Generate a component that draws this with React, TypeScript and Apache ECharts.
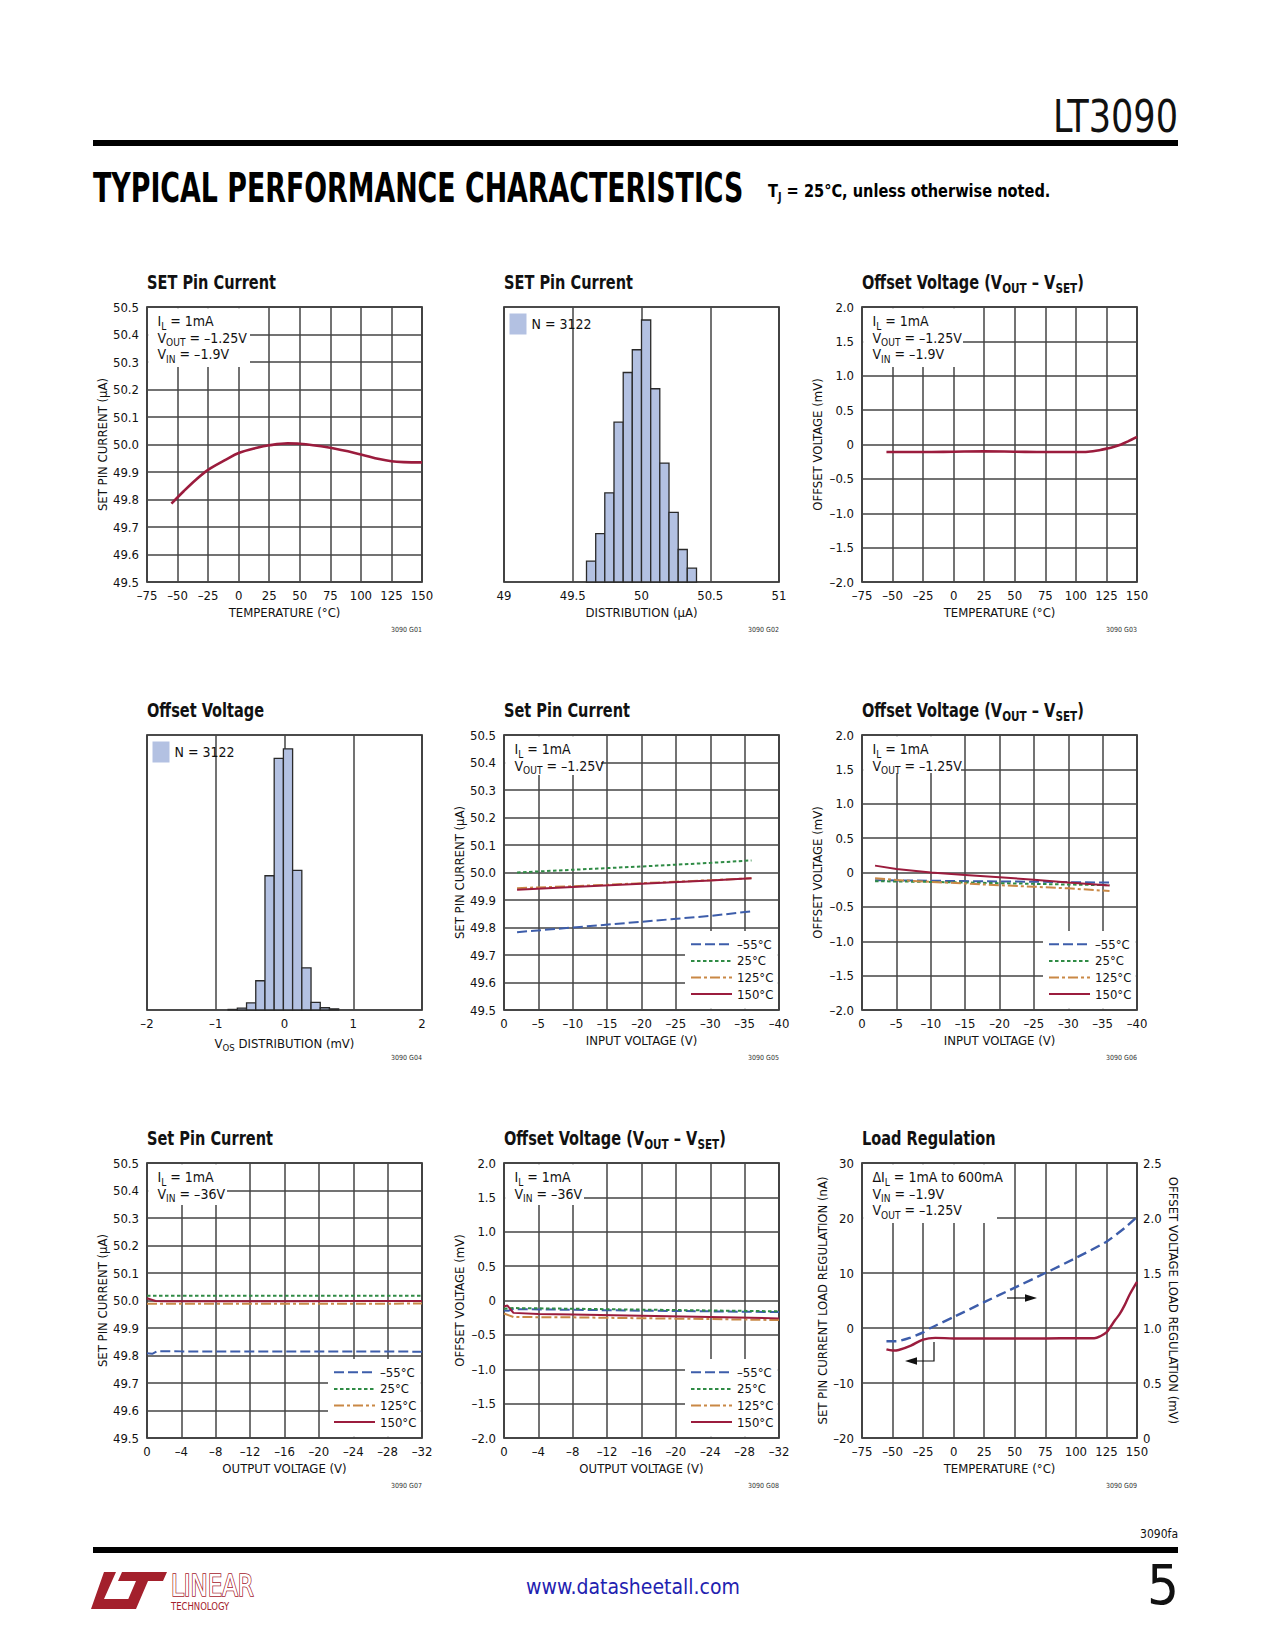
import React, { useEffect, useRef } from "react";
import * as echarts from "echarts";

const W = 1275;
const H = 1650;
const NARROW = "'Liberation Sans Narrow', 'Arial Narrow', 'DejaVu Sans Condensed', sans-serif";
const INK = "#111";
const GRID_C = "#454545";
const FRAME = "#111";
const RED = "#9b1c3d";
const BLUE = "#3d5daa";
const GREEN = "#2f8b45";
const ORANGE = "#c98845";
const HIST_FILL = "#b3c1e2";
const HIST_EDGE = "#2a2a2a";
const LOGO_RED = "#a3202c";

// ---------- tick values and labels ----------
const TEMP_TICKS = [-75, -50, -25, 0, 25, 50, 75, 100, 125, 150];
const TEMP_LABELS = ["–75", "–50", "–25", "0", "25", "50", "75", "100", "125", "150"];
const SETPIN_TICKS = [49.5, 49.6, 49.7, 49.8, 49.9, 50.0, 50.1, 50.2, 50.3, 50.4, 50.5];
const SETPIN_LABELS = ["49.5", "49.6", "49.7", "49.8", "49.9", "50.0", "50.1", "50.2", "50.3", "50.4", "50.5"];
const OFFSET_TICKS = [-2, -1.5, -1, -0.5, 0, 0.5, 1, 1.5, 2];
const OFFSET_LABELS = ["–2.0", "–1.5", "–1.0", "–0.5", "0", "0.5", "1.0", "1.5", "2.0"];
const VIN_TICKS = [0, -5, -10, -15, -20, -25, -30, -35, -40];
const VIN_LABELS = ["0", "–5", "–10", "–15", "–20", "–25", "–30", "–35", "–40"];
const VOUT_TICKS = [0, -4, -8, -12, -16, -20, -24, -28, -32];
const VOUT_LABELS = ["0", "–4", "–8", "–12", "–16", "–20", "–24", "–28", "–32"];
const DIST_I_TICKS = [49, 49.5, 50, 50.5, 51];
const DIST_I_LABELS = ["49", "49.5", "50", "50.5", "51"];
const DIST_V_TICKS = [-2, -1, 0, 1, 2];
const DIST_V_LABELS = ["–2", "–1", "0", "1", "2"];
const LOAD_NA_TICKS = [-20, -10, 0, 10, 20, 30];
const LOAD_NA_LABELS = ["–20", "–10", "0", "10", "20", "30"];
const LOAD_MV_TICKS = [0, 0.5, 1, 1.5, 2, 2.5];
const LOAD_MV_LABELS = ["0", "0.5", "1.0", "1.5", "2.0", "2.5"];

const TEMP_NAMES = ["–55°C", "25°C", "125°C", "150°C"];

// ---------- G01: SET pin current vs temperature ----------
const G01_TEMP = [-55, -45, -35, -25, -10, 0, 15, 25, 40, 50, 75, 100, 115, 125, 135, 150];
const G01_ISET = [49.785, 49.83, 49.872, 49.908, 49.946, 49.969, 49.988, 49.997, 50.004, 50.003, 49.988, 49.964, 49.947, 49.939, 49.936, 49.935];

// ---------- G02: SET pin current distribution ----------
const G02_BIN_EDGES = [49.6, 49.667, 49.733, 49.8, 49.867, 49.933, 50.0, 50.067, 50.133, 50.2, 50.267, 50.333, 50.4];
const G02_COUNTS = [45, 104, 192, 344, 451, 500, 564, 416, 256, 150, 70, 30];
const G02_YMAX = 592;

// ---------- G03: offset voltage vs temperature ----------
const G03_TEMP = [-55, -25, 0, 25, 50, 75, 100, 110, 120, 125, 130, 137, 143, 150];
const G03_VOS = [-0.11, -0.11, -0.105, -0.1, -0.105, -0.11, -0.11, -0.105, -0.08, -0.06, -0.04, 0.0, 0.05, 0.11];

// ---------- G04: offset voltage distribution ----------
const G04_BIN_EDGES = [-0.82, -0.686, -0.552, -0.418, -0.284, -0.15, -0.016, 0.118, 0.252, 0.386, 0.52, 0.654, 0.788];
const G04_COUNTS = [2, 7, 25, 104, 477, 894, 928, 496, 150, 27, 8, 4];
const G04_YMAX = 977;

// ---------- G05: SET pin current vs input voltage ----------
const G05_VIN = [-1.9, -10, -20, -30, -36];
const G05_M55 = [49.783, 49.8, 49.821, 49.842, 49.859];
const G05_25 = [50.0, 50.01, 50.022, 50.035, 50.044];
const G05_125 = [49.943, 49.95, 49.961, 49.972, 49.979];
const G05_150 = [49.937, 49.947, 49.959, 49.971, 49.979];

// ---------- G06: offset voltage vs input voltage ----------
const G06_VIN = [-1.9, -5, -10, -15, -20, -25, -30, -36];
const G06_M55 = [-0.112, -0.115, -0.12, -0.125, -0.13, -0.135, -0.14, -0.146];
const G06_25 = [-0.127, -0.13, -0.137, -0.145, -0.155, -0.165, -0.175, -0.185];
const G06_125 = [-0.083, -0.11, -0.136, -0.16, -0.185, -0.207, -0.23, -0.27];
const G06_150 = [0.1, 0.05, 0.0, -0.035, -0.07, -0.105, -0.145, -0.19];

// ---------- G07: SET pin current vs output voltage ----------
const G07_VOUT_M55 = [0, -0.6, -1.2, -4, -16, -32];
const G07_M55 = [49.808, 49.806, 49.816, 49.815, 49.815, 49.814];
const G07_VOUT_25 = [0, -8, -16, -24, -32];
const G07_25 = [50.017, 50.017, 50.017, 50.017, 50.017];
const G07_VOUT_125 = [0, -8, -16, -24, -32];
const G07_125 = [49.988, 49.988, 49.988, 49.988, 49.989];
const G07_VOUT_150 = [0, -1, -2, -8, -16, -24, -32];
const G07_150 = [50.008, 49.998, 49.997, 49.997, 49.997, 49.998, 49.998];

// ---------- G08: offset voltage vs output voltage ----------
const G08_VOUT_M55 = [0, -0.5, -1.1, -8, -16, -24, -32];
const G08_M55 = [-0.146, -0.15, -0.126, -0.135, -0.148, -0.158, -0.168];
const G08_VOUT_25 = [0, -1.1, -8, -16, -24, -32];
const G08_25 = [-0.12, -0.11, -0.12, -0.133, -0.145, -0.157];
const G08_VOUT_125 = [0, -1.1, -8, -16, -24, -32];
const G08_125 = [-0.19, -0.24, -0.245, -0.258, -0.27, -0.285];
const G08_VOUT_150 = [0, -0.4, -0.7, -1.1, -4, -8, -16, -24, -32];
const G08_150 = [-0.087, -0.073, -0.12, -0.18, -0.195, -0.204, -0.222, -0.24, -0.26];

// ---------- G09: load regulation ----------
const G09_TEMP_I = [-55, -50, -45, -35, -25, -15, 0, 25, 50, 75, 100, 115, 120, 125, 128, 132, 136, 140, 144, 150];
const G09_ISET_NA = [-3.9, -4.1, -4.0, -3.2, -2.1, -1.8, -1.9, -1.9, -1.9, -1.9, -1.85, -1.85, -1.5, -0.8, 0.1, 1.4, 2.6, 4.2, 6.1, 8.4];
const G09_TEMP_V = [-55, -47, -36, -25, -19, 0, 25, 50, 75, 100, 125, 140, 150];
const G09_VOS_MV = [0.879, 0.879, 0.91, 0.96, 1.0, 1.1, 1.235, 1.367, 1.5, 1.637, 1.785, 1.91, 2.01];

// ---------- layout ----------
const COLS = [147, 504, 862];
const ROWS = [307, 735, 1163];
const PW = 275;
const PH = 275;
const gx = (i: number) => COLS[i % 3];
const gy = (i: number) => ROWS[Math.floor(i / 3)];

const zip = (xs: number[], ys: number[]) => xs.map((x, i) => [x, ys[i]]);

function lookup(ticks: number[], labels: string[]) {
  return (v: number) => {
    const i = ticks.findIndex((t) => Math.abs(t - v) < 1e-6);
    return i >= 0 ? labels[i] : "";
  };
}

const nameStyle = { fontSize: 13, color: INK, fontFamily: NARROW };
const subRich = {
  a: { fontSize: 13, fontFamily: NARROW, color: INK, lineHeight: 18 },
  s: { fontSize: 9.5, fontFamily: NARROW, color: INK, lineHeight: 9, verticalAlign: "bottom" },
};

function valAxis(gridIndex: number, ticks: number[], labels: string[], isX: boolean, extra: any = {}) {
  const min = Math.min(...ticks);
  const max = Math.max(...ticks);
  const interval = Math.round(Math.abs(ticks[1] - ticks[0]) * 1e6) / 1e6;
  return {
    type: "value",
    gridIndex,
    min,
    max,
    interval,
    axisLine: { show: false },
    axisTick: { show: false },
    splitLine: { show: true, lineStyle: { color: GRID_C, width: 1.5 } },
    axisLabel: {
      show: true,
      fontSize: 13,
      lineHeight: 14,
      color: INK,
      fontFamily: NARROW,
      margin: isX ? 6 : 8,
      formatter: lookup(ticks, labels),
    },
    nameLocation: "middle",
    nameGap: isX ? 24 : 38,
    nameTextStyle: nameStyle,
    nameMoveOverlap: false,
    ...extra,
  };
}

function histAxis(gridIndex: number, ymax: number) {
  return { type: "value", gridIndex, min: 0, max: ymax, show: false, splitLine: { show: false } };
}

function lineSeries(name: string, xi: number, yi: number, data: number[][], color: string, type: any, width = 2, smooth: any = false) {
  return {
    type: "line",
    name,
    xAxisIndex: xi,
    yAxisIndex: yi,
    data,
    symbol: "none",
    smooth,
    z: 3,
    itemStyle: { color },
    lineStyle: { color, width, type },
  };
}

const DASH_BLUE = [10, 4];
const DOT_GREEN = [3.5, 2.5];
const DASHDOT_ORANGE = [10, 3, 3, 3];

function tempSeries(xi: number, data: number[][][]) {
  return [
    lineSeries(TEMP_NAMES[0], xi, xi, data[0], BLUE, DASH_BLUE),
    lineSeries(TEMP_NAMES[1], xi, xi, data[1], GREEN, DOT_GREEN),
    lineSeries(TEMP_NAMES[2], xi, xi, data[2], ORANGE, DASHDOT_ORANGE),
    lineSeries(TEMP_NAMES[3], xi, xi, data[3], RED, "solid"),
  ];
}

function histSeries(xi: number, edges: number[], counts: number[]) {
  const data = counts.map((c, i) => [edges[i], edges[i + 1], c]);
  return {
    type: "custom",
    name: "N = 3122",
    xAxisIndex: xi,
    yAxisIndex: xi,
    data,
    z: 2,
    itemStyle: { color: HIST_FILL },
    encode: { x: [0, 1], y: 2 },
    renderItem: (params: any, api: any) => {
      const p0 = api.coord([api.value(0), api.value(2)]);
      const p1 = api.coord([api.value(1), 0]);
      return {
        type: "rect",
        shape: { x: p0[0], y: p0[1], width: p1[0] - p0[0], height: p1[1] - p0[1] },
        style: { fill: HIST_FILL, stroke: HIST_EDGE, lineWidth: 1.3 },
      };
    },
  };
}

function subText(text: string, x: number, y: number, size: number, extra: any = {}, subSize?: number, weight: any = "normal", scaleX = 1) {
  const ss = subSize || size * 0.72;
  return {
    type: "text",
    z: 6,
    silent: true,
    x,
    y,
    scaleX,
    style: {
      text,
      x: 0,
      y: 0,
      fill: INK,
      fontSize: size,
      fontFamily: NARROW,
      fontWeight: weight,
      verticalAlign: "middle",
      lineHeight: size + 6,
      rich: {
        s: { fontSize: ss, fontFamily: NARROW, fontWeight: weight, lineHeight: ss, verticalAlign: "bottom", fill: INK },
      },
      ...extra,
    },
  };
}

function whiteBox(i: number, rx: number, ry: number, w: number, h: number) {
  return {
    type: "rect",
    z: 1,
    silent: true,
    shape: { x: gx(i) + rx, y: gy(i) + ry, width: w, height: h },
    style: { fill: "#fff" },
  };
}

function annotation(i: number, w: number, h: number, lines: string[]) {
  const els: any[] = [whiteBox(i, 1.2, 1.2, w - 1.2, h - 1.2)];
  lines.forEach((t, k) => {
    els.push(subText(t, gx(i) + 10.5, gy(i) + 14 + k * 16.6, 14));
  });
  return els;
}

function measure(text: string, font: string) {
  const c = document.createElement("canvas").getContext("2d") as CanvasRenderingContext2D;
  c.font = font;
  return c.measureText(text).width || 1;
}

function buildOption() {
  const grids = Array.from({ length: 9 }, (_, i) => ({
    left: gx(i),
    top: gy(i),
    width: PW,
    height: PH,
    show: true,
    borderColor: FRAME,
    borderWidth: 1.6,
    backgroundColor: "transparent",
    containLabel: false,
    outerBoundsMode: "none",
  }));

  const vosName = "{a|V}{s|OS}{a| DISTRIBUTION (mV)}";

  const xAxis = [
    valAxis(0, TEMP_TICKS, TEMP_LABELS, true, { name: "TEMPERATURE (°C)" }),
    valAxis(1, DIST_I_TICKS, DIST_I_LABELS, true, { name: "DISTRIBUTION (µA)" }),
    valAxis(2, TEMP_TICKS, TEMP_LABELS, true, { name: "TEMPERATURE (°C)" }),
    valAxis(3, DIST_V_TICKS, DIST_V_LABELS, true, { name: vosName, nameTextStyle: { ...nameStyle, rich: subRich } }),
    valAxis(4, VIN_TICKS, VIN_LABELS, true, { name: "INPUT VOLTAGE (V)", inverse: true }),
    valAxis(5, VIN_TICKS, VIN_LABELS, true, { name: "INPUT VOLTAGE (V)", inverse: true }),
    valAxis(6, VOUT_TICKS, VOUT_LABELS, true, { name: "OUTPUT VOLTAGE (V)", inverse: true }),
    valAxis(7, VOUT_TICKS, VOUT_LABELS, true, { name: "OUTPUT VOLTAGE (V)", inverse: true }),
    valAxis(8, TEMP_TICKS, TEMP_LABELS, true, { name: "TEMPERATURE (°C)" }),
  ];

  const yAxis = [
    valAxis(0, SETPIN_TICKS, SETPIN_LABELS, false, { name: "SET PIN CURRENT (µA)" }),
    histAxis(1, G02_YMAX),
    valAxis(2, OFFSET_TICKS, OFFSET_LABELS, false, { name: "OFFSET VOLTAGE (mV)" }),
    histAxis(3, G04_YMAX),
    valAxis(4, SETPIN_TICKS, SETPIN_LABELS, false, { name: "SET PIN CURRENT (µA)" }),
    valAxis(5, OFFSET_TICKS, OFFSET_LABELS, false, { name: "OFFSET VOLTAGE (mV)" }),
    valAxis(6, SETPIN_TICKS, SETPIN_LABELS, false, { name: "SET PIN CURRENT (µA)" }),
    valAxis(7, OFFSET_TICKS, OFFSET_LABELS, false, { name: "OFFSET VOLTAGE (mV)" }),
    valAxis(8, LOAD_NA_TICKS, LOAD_NA_LABELS, false, { name: "SET PIN CURRENT LOAD REGULATION (nA)", nameGap: 33 }),
    valAxis(8, LOAD_MV_TICKS, LOAD_MV_LABELS, false, {
      name: "OFFSET VOLTAGE LOAD REGULATION (mV)",
      position: "right",
      nameRotate: -90,
      nameGap: 30,
      splitLine: { show: false },
      axisLabel: { show: true, fontSize: 13, lineHeight: 13, color: INK, fontFamily: NARROW, margin: 6, formatter: lookup(LOAD_MV_TICKS, LOAD_MV_LABELS) },
    }),
  ];

  const series: any[] = [
    lineSeries("G01", 0, 0, zip(G01_TEMP, G01_ISET), RED, "solid", 2.6, 0.35),
    histSeries(1, G02_BIN_EDGES, G02_COUNTS),
    lineSeries("G03", 2, 2, zip(G03_TEMP, G03_VOS), RED, "solid", 2.6, 0.35),
    histSeries(3, G04_BIN_EDGES, G04_COUNTS),
    ...tempSeries(4, [zip(G05_VIN, G05_M55), zip(G05_VIN, G05_25), zip(G05_VIN, G05_125), zip(G05_VIN, G05_150)]),
    ...tempSeries(5, [zip(G06_VIN, G06_M55), zip(G06_VIN, G06_25), zip(G06_VIN, G06_125), zip(G06_VIN, G06_150)]),
    ...tempSeries(6, [zip(G07_VOUT_M55, G07_M55), zip(G07_VOUT_25, G07_25), zip(G07_VOUT_125, G07_125), zip(G07_VOUT_150, G07_150)]),
    ...tempSeries(7, [zip(G08_VOUT_M55, G08_M55), zip(G08_VOUT_25, G08_25), zip(G08_VOUT_125, G08_125), zip(G08_VOUT_150, G08_150)]),
    lineSeries("G09 I", 8, 8, zip(G09_TEMP_I, G09_ISET_NA), RED, "solid", 2.4, 0.35),
    lineSeries("G09 V", 8, 9, zip(G09_TEMP_V, G09_VOS_MV), BLUE, [10, 5], 2.4, 0.2),
  ];

  const legend: any[] = [4, 5, 6, 7].map((i) => ({
    data: TEMP_NAMES,
    orient: "vertical",
    left: gx(i) + 186,
    top: gy(i) + 201,
    itemWidth: 41,
    itemHeight: 10,
    itemGap: 0,
    padding: 0,
    selectedMode: false,
    itemStyle: { opacity: 0 },
    textStyle: { fontSize: 13, lineHeight: 16.6, color: INK, fontFamily: NARROW },
    z: 5,
  }));
  [1, 3].forEach((i) => {
    legend.push({
      data: [{ name: "N = 3122", icon: "rect" }],
      left: gx(i) + 5.5,
      top: gy(i) + 6.5,
      itemWidth: 17,
      itemHeight: 21,
      padding: 0,
      selectedMode: false,
      itemStyle: { color: HIST_FILL, borderWidth: 0 },
      textStyle: { fontSize: 14, color: INK, fontFamily: NARROW },
      z: 5,
    });
  });

  const els: any[] = [];

  // chart titles
  const TITLES = [
    "SET Pin Current",
    "SET Pin Current",
    "Offset Voltage (V{s|OUT} – V{s|SET})",
    "Offset Voltage",
    "Set Pin Current",
    "Offset Voltage (V{s|OUT} – V{s|SET})",
    "Set Pin Current",
    "Offset Voltage (V{s|OUT} – V{s|SET})",
    "Load Regulation",
  ];
  TITLES.forEach((t, i) => {
    els.push(subText(t, gx(i), gy(i) - 25, 19.5, {}, 14, "bold", 0.83));
    els.push({
      type: "text",
      z: 6,
      silent: true,
      style: { text: `3090 G0${i + 1}`, x: gx(i) + PW, y: gy(i) + PH + 48, align: "right", verticalAlign: "middle", fontSize: 7, fontFamily: NARROW, fill: "#333" },
    });
  });

  // annotation boxes
  const A3 = ["I{s|L} = 1mA", "V{s|OUT} = –1.25V", "V{s|IN} = –1.9V"];
  els.push(...annotation(0, 103, 60, A3));
  els.push(...annotation(2, 101, 60, A3));
  const A2 = ["I{s|L} = 1mA", "V{s|OUT} = –1.25V"];
  els.push(...annotation(4, 97, 40, A2));
  els.push(...annotation(5, 99, 38, A2));
  const A36 = ["I{s|L} = 1mA", "V{s|IN} = –36V"];
  els.push(...annotation(6, 80, 42, A36));
  els.push(...annotation(7, 80, 42, A36));
  els.push(...annotation(8, 135, 60, ["ΔI{s|L} = 1mA to 600mA", "V{s|IN} = –1.9V", "V{s|OUT} = –1.25V"]));

  // legend white boxes
  [4, 5, 6, 7].forEach((i) => els.push(whiteBox(i, 181, 196, PW - 182.2, PH - 197.2)));

  // load regulation arrows
  const ax = gx(8);
  const ay = gy(8);
  els.push({ type: "line", z: 6, silent: true, shape: { x1: ax + 145, y1: ay + 135, x2: ax + 166, y2: ay + 135 }, style: { stroke: "#111", lineWidth: 1.2 } });
  els.push({ type: "polygon", z: 6, silent: true, shape: { points: [[ax + 175, ay + 135], [ax + 163, ay + 131.3], [ax + 163, ay + 138.7]] }, style: { fill: "#111" } });
  els.push({ type: "polyline", z: 6, silent: true, shape: { points: [[ax + 72, ay + 179], [ax + 72, ay + 198], [ax + 52, ay + 198]] }, style: { stroke: "#111", lineWidth: 1.2, fill: null } });
  els.push({ type: "polygon", z: 6, silent: true, shape: { points: [[ax + 43, ay + 198], [ax + 55, ay + 194.3], [ax + 55, ay + 201.7]] }, style: { fill: "#111" } });

  // page header
  const ltFont = "44px 'DejaVu Sans Condensed'";
  const ltScale = Math.min(1, 125 / measure("LT3090", ltFont));
  els.push({ type: "text", silent: true, x: 1178, y: 137, scaleX: ltScale, style: { text: "LT3090", x: 0, y: 0, align: "right", verticalAlign: "bottom", lineHeight: 40, fontSize: 44, fontFamily: NARROW, fill: "#111" } });
  els.push({ type: "rect", silent: true, shape: { x: 93, y: 140, width: 1085, height: 6 }, style: { fill: "#000" } });
  const headFont = "bold 40px 'DejaVu Sans Condensed'";
  const headText = "TYPICAL PERFORMANCE CHARACTERISTICS";
  const headScale = 651 / measure(headText, headFont);
  els.push({
    type: "text",
    silent: true,
    x: 93,
    y: 188,
    scaleX: headScale,
    style: { text: headText, x: 0, y: 0, verticalAlign: "middle", fontSize: 40, fontWeight: "bold", fontFamily: "'DejaVu Sans Condensed', sans-serif", fill: "#000" },
  });
  els.push(subText("T{s|J} = 25°C, unless otherwise noted.", 768, 191, 18, { fill: "#000" }, 12, "bold", 0.9));

  // page footer
  els.push({ type: "text", silent: true, style: { text: "3090fa", x: 1178, y: 1534, align: "right", verticalAlign: "middle", fontSize: 12, fontFamily: NARROW, fill: "#111" } });
  els.push({ type: "rect", silent: true, shape: { x: 93, y: 1547, width: 1085, height: 6 }, style: { fill: "#000" } });
  els.push({ type: "text", silent: true, style: { text: "www.datasheetall.com", x: 633, y: 1587, align: "center", verticalAlign: "middle", fontSize: 21, fontFamily: NARROW, fill: "#1f22b0" } });
  els.push({ type: "text", silent: true, style: { text: "5", x: 1179, y: 1584, align: "right", verticalAlign: "middle", fontSize: 56, fontFamily: NARROW, fill: "#111" } });
  // logo
  els.push({ type: "polygon", silent: true, shape: { points: [[104, 1572], [116, 1572], [104, 1599], [130, 1599], [126, 1609], [91, 1609]] }, style: { fill: LOGO_RED } });
  els.push({ type: "polygon", silent: true, shape: { points: [[122, 1572], [167, 1572], [163, 1581], [148, 1581], [136, 1609], [124, 1609], [136, 1581], [118, 1581]] }, style: { fill: LOGO_RED } });
  els.push({ type: "text", silent: true, x: 171, y: 1586, scaleX: 0.85, style: { text: "LINEAR", x: 0, y: 0, verticalAlign: "middle", lineHeight: 26, fontSize: 30, fontFamily: NARROW, fill: "#fff", stroke: LOGO_RED, lineWidth: 1.6 } });
  els.push({ type: "text", silent: true, x: 171, y: 1606, scaleX: 0.9, style: { text: "TECHNOLOGY", x: 0, y: 0, verticalAlign: "middle", lineHeight: 9, fontSize: 10.5, fontFamily: NARROW, fill: LOGO_RED } });

  return {
    animation: false,
    backgroundColor: "#fff",
    textStyle: { fontFamily: NARROW },
    grid: grids,
    xAxis,
    yAxis,
    legend,
    series,
    graphic: { elements: els },
  };
}

export default function App() {
  const ref = useRef<HTMLDivElement>(null);
  useEffect(() => {
    const chart = echarts.init(ref.current as HTMLDivElement, null, { renderer: "svg", width: W, height: H });
    chart.setOption(buildOption() as any);
    return () => chart.dispose();
  }, []);
  return <div ref={ref} style={{ position: "absolute", left: 0, top: 0, width: W, height: H, background: "#fff" }} />;
}
